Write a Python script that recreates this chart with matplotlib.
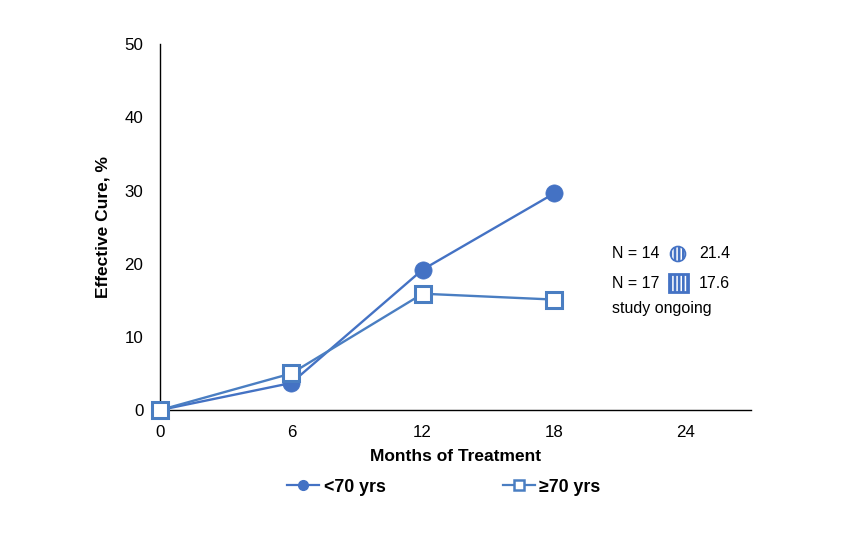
import matplotlib
matplotlib.use("Agg")
import matplotlib.pyplot as plt
from matplotlib.patches import Circle, Rectangle
from matplotlib.lines import Line2D

plt.rcParams['font.family'] = ['Liberation Sans', 'DejaVu Sans']
plt.rcParams['hatch.linewidth'] = 1.1

months = [0, 6, 12, 18]
under70 = [0, 3.7, 19.2, 29.6]
over70 = [0, 5.0, 15.9, 15.1]
x_ticks = [0, 6, 12, 18, 24]
y_ticks = [0, 10, 20, 30, 40, 50]
label_under = "<70 yrs"
label_over = "\u226570 yrs"
n_under = "N = 14"
n_over = "N = 17"
val_under = "21.4"
val_over = "17.6"
note = "study ongoing"

c1 = "#4472C4"
c2 = "#4A7EC2"

fig = plt.figure(figsize=(8.42, 5.46), dpi=100)
ax = fig.add_axes([0.190, 0.249, 0.702, 0.670])

ax.plot(months, under70, color=c1, lw=1.7, marker='o', ms=12.4,
        mfc=c1, mec=c1, mew=0.5, clip_on=False, zorder=3)
ax.plot(months, over70, color=c2, lw=1.7, marker='s', ms=12.2, mfc='white',
        mec=c2, mew=2.2, clip_on=False, zorder=4)

ax.set_xlim(0, 27)
ax.set_ylim(0, 50)
ax.set_xticks(x_ticks)
ax.set_yticks(y_ticks)
ax.tick_params(length=0, labelsize=12.2)
ax.tick_params(axis='y', pad=12)
ax.tick_params(axis='x', pad=11)
for s in ['top', 'right']:
    ax.spines[s].set_visible(False)
for s in ['left', 'bottom']:
    ax.spines[s].set_linewidth(1.0)
    ax.spines[s].set_color('black')

ax.set_ylabel("Effective Cure, %", fontsize=12.5, fontweight='bold', labelpad=10)
ax.set_xlabel("Months of Treatment", fontsize=12.5, fontweight='bold', labelpad=6)

handles = [
    Line2D([], [], color=c1, lw=1.6, marker='o', ms=7, mfc=c1, mec=c1),
    Line2D([], [], color=c2, lw=1.6, marker='s', ms=7, mfc='white', mec=c2, mew=1.8),
]
fig.legend(handles, [label_under, label_over], loc='center',
           bbox_to_anchor=(0.527, 1 - 487 / 546), ncol=2, frameon=False,
           prop={'size': 12.8, 'weight': 'bold'}, handlelength=1.8,
           handletextpad=0.25, columnspacing=6.6)

def fx(px):
    return px / 842

def fy(py):
    return 1 - py / 546

fig.text(fx(612), fy(254), n_under, fontsize=11.5, va='center', ha='left')
fig.text(fx(612), fy(283), n_over, fontsize=11.5, va='center', ha='left')
fig.text(fx(699), fy(254), val_under, fontsize=11.5, va='center', ha='left')
fig.text(fx(699), fy(283), val_over, fontsize=11.5, va='center', ha='left')
fig.text(fx(612), fy(309), note, fontsize=11.5, va='center', ha='left')

icon_ax = fig.add_axes([0, 0, 1, 1], facecolor='none')
icon_ax.set_xlim(0, 842)
icon_ax.set_ylim(546, 0)
icon_ax.axis('off')
icon_ax.add_patch(Circle((678, 254), 7.5, facecolor=c1, edgecolor='white',
                         hatch='||||', lw=0))
icon_ax.add_patch(Circle((678, 254), 7.5, facecolor='none', edgecolor=c1, lw=1.2))
icon_ax.add_patch(Rectangle((669, 274), 19, 18, facecolor=c1, edgecolor='white',
                            hatch='||||', lw=0))
icon_ax.add_patch(Rectangle((669, 274), 19, 18, facecolor='none', edgecolor=c1, lw=2.0))

fig.savefig("out.png", dpi=100)
